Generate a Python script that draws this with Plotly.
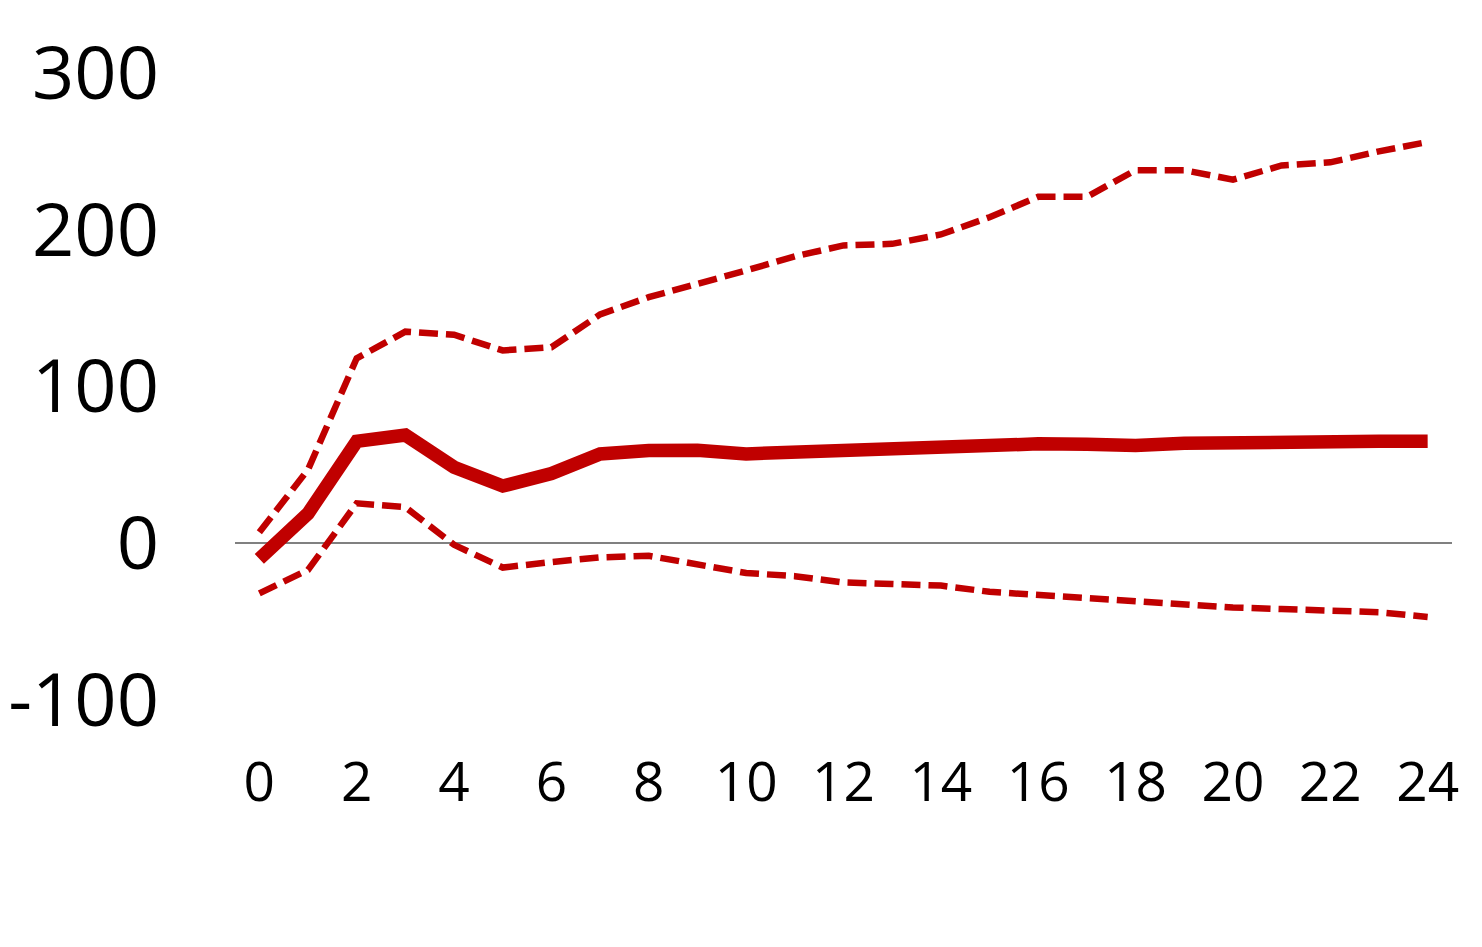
import plotly.graph_objects as go

# horizon (months) and impulse response with bands
horizon = list(range(25))
response = [-10, 19, 65, 69, 48.5, 36.5, 44.5, 57, 59.2, 59.3, 57, 58.3, 59.5, 61, 61.3,
            63.2, 63.4, 63.2, 62.3, 63.8, 64.5, 64.9, 65, 65, 65.1]
upper = [7, 47, 118, 135, 133, 123, 125, 146, 157, 165, 174, 183, 190, 191, 197, 208, 221, 221, 238, 238, 232, 241, 243, 250, 256]
lower = [-32, -17, 25.5, 23, -1, -15.5, -12, -9, -8, -13, -19, -21, -25, -26, -27, -31, -33, -35, -37, -40, -41, -42, -43, -44, -47]

y_ticks = [-100, 0, 100, 200, 300]
y_labels = ["-100", "0", "100", "200", "300"]

RED = "#C00000"

fig = go.Figure()
fig.add_trace(go.Scatter(x=horizon, y=upper, mode="lines",
                         line=dict(color=RED, width=6.5, dash="19px,8px")))
fig.add_trace(go.Scatter(x=horizon, y=lower, mode="lines",
                         line=dict(color=RED, width=6.5, dash="19px,8px")))
fig.add_trace(go.Scatter(x=horizon, y=response, mode="lines",
                         line=dict(color=RED, width=13.5)))

# page body adds an 8px offset, so margins are shifted to compensate
fig.update_layout(
    width=1482, height=947,
    showlegend=False,
    plot_bgcolor="white", paper_bgcolor="white",
    margin=dict(l=227, r=38, t=65, b=255),
    font=dict(family="Open Sans, sans-serif", color="black"),
)
fig.update_xaxes(
    range=[-0.5, 24.5], tickvals=list(range(0, 25, 2)),
    showgrid=False, zeroline=False, showline=False, automargin=False,
    tickfont=dict(size=55), ticklabelstandoff=45,
)
fig.update_yaxes(
    range=[-100, 300], tickvals=y_ticks, ticktext=y_labels,
    showgrid=False, zeroline=True, zerolinecolor="#808080", zerolinewidth=2,
    showline=False, automargin=False, tickfont=dict(size=74), ticklabelstandoff=75,
)

fig.write_html("out.html")
